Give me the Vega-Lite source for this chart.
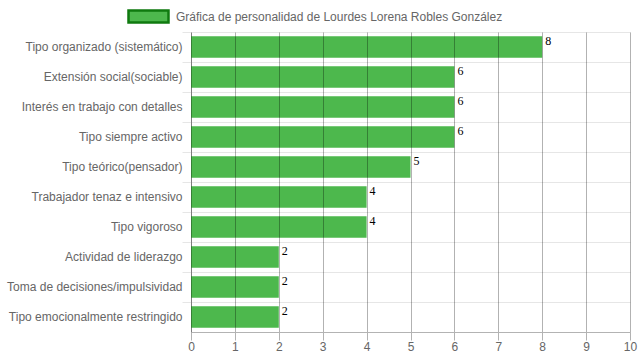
{
  "$schema": "https://vega.github.io/schema/vega-lite/v6.json",
  "width": 439,
  "height": 300,
  "autosize": {"type": "none"},
  "padding": {"left": 191, "top": 32, "right": 9, "bottom": 28},
  "background": "white",
  "config": {"view": {"stroke": null}, "font": "Liberation Sans"},
  "data": {
    "values": [
      {"tipo": "Tipo organizado (sistemático)", "valor": 8},
      {"tipo": "Extensión social(sociable)", "valor": 6},
      {"tipo": "Interés en trabajo con detalles", "valor": 6},
      {"tipo": "Tipo siempre activo", "valor": 6},
      {"tipo": "Tipo teórico(pensador)", "valor": 5},
      {"tipo": "Trabajador tenaz e intensivo", "valor": 4},
      {"tipo": "Tipo vigoroso", "valor": 4},
      {"tipo": "Actividad de liderazgo", "valor": 2},
      {"tipo": "Toma de decisiones/impulsividad", "valor": 2},
      {"tipo": "Tipo emocionalmente restringido", "valor": 2}
    ]
  },
  "encoding": {
    "y": {
      "field": "tipo",
      "type": "nominal",
      "sort": null,
      "scale": {"paddingInner": 0.28, "paddingOuter": 0.14},
      "axis": {
        "title": null,
        "labelFont": "Liberation Sans",
        "labelFontSize": 12,
        "labelColor": "#666666",
        "labelPadding": 0,
        "tickSize": 9,
        "tickColor": "#e6e6e6",
        "grid": true,
        "gridColor": "#e6e6e6",
        "bandPosition": -0.194,
        "domainColor": "#b3b3b3"
      }
    },
    "x": {
      "field": "valor",
      "type": "quantitative",
      "scale": {"domain": [0, 10], "nice": false},
      "axis": {
        "title": null,
        "values": [0, 1, 2, 3, 4, 5, 6, 7, 8, 9, 10],
        "labelFont": "Liberation Sans",
        "labelFontSize": 12,
        "labelColor": "#666666",
        "labelPadding": 1,
        "labelFlush": false,
        "tickSize": 8,
        "tickColor": "#000000",
        "tickOpacity": 0.3,
        "grid": true,
        "gridColor": "#000000",
        "gridOpacity": 0.3,
        "domainColor": "#b3b3b3",
        "zindex": 1
      }
    }
  },
  "layer": [
    {
      "mark": {"type": "bar", "strokeWidth": 0},
      "encoding": {
        "fill": {
          "datum": "Gráfica de personalidad de Lourdes Lorena Robles González",
          "scale": {"range": ["#4db84d"]},
          "legend": {
            "orient": "none",
            "legendX": -64,
            "legendY": -37,
            "title": null,
            "padding": 0,
            "labelFont": "Liberation Sans",
            "labelFontSize": 12,
            "labelColor": "#666666",
            "labelLimit": 600,
            "labelOffset": 6,
            "symbolType": "M-1,-0.3H1V0.3H-1Z",
            "symbolSize": 1600,
            "symbolStrokeWidth": 2.5,
            "symbolOpacity": 1
          }
        },
        "stroke": {
          "datum": "Gráfica de personalidad de Lourdes Lorena Robles González",
          "scale": {"range": ["#0f7a0f"]},
          "legend": {
            "orient": "none",
            "legendX": -64,
            "legendY": -37,
            "title": null,
            "padding": 0,
            "labelFont": "Liberation Sans",
            "labelFontSize": 12,
            "labelColor": "#666666",
            "labelLimit": 600,
            "labelOffset": 6,
            "symbolType": "M-1,-0.3H1V0.3H-1Z",
            "symbolSize": 1600,
            "symbolStrokeWidth": 2.5,
            "symbolOpacity": 1
          }
        }
      }
    },
    {
      "mark": {
        "type": "text",
        "font": "Liberation Serif",
        "fontSize": 12,
        "color": "#000000",
        "align": "left",
        "baseline": "alphabetic",
        "dx": 3,
        "dy": -2
      },
      "encoding": {"text": {"field": "valor", "type": "quantitative"}}
    }
  ]
}
